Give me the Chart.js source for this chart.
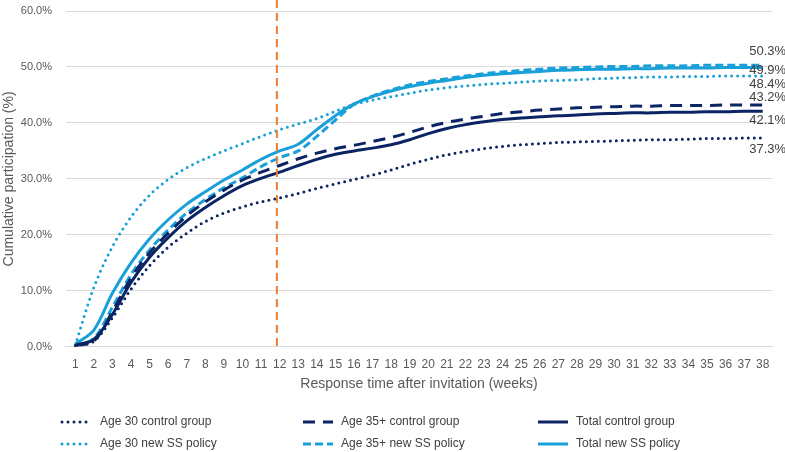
<!DOCTYPE html>
<html>
<head>
<meta charset="utf-8">
<script src="https://cdn.jsdelivr.net/npm/chart.js@4.4.1/dist/chart.umd.min.js"></script>
<style>
  html, body { margin: 0; padding: 0; background: #fff; }
  #wrap { width: 785px; height: 452px; }
</style>
</head>
<body>
<div id="wrap"><canvas id="participationChart"></canvas></div>
<script>
// Weeks after invitation
var weeks = ['1','2','3','4','5','6','7','8','9','10','11','12','13','14','15','16','17','18','19',
             '20','21','22','23','24','25','26','27','28','29','30','31','32','33','34','35','36','37','38'];

// Cumulative participation (%) per group
var age30Control = [0.2, 1.0, 5.2, 10.3, 14.5, 17.8, 20.3, 22.4, 23.9, 25.0, 25.9, 26.6, 27.4, 28.3, 29.1, 29.9, 30.7, 31.6, 32.6,
                    33.5, 34.3, 34.9, 35.4, 35.8, 36.1, 36.3, 36.5, 36.6, 36.7, 36.8, 36.9, 37.0, 37.0, 37.1, 37.2, 37.2, 37.3, 37.3];
var age35Control = [0.2, 1.0, 6.3, 12.3, 16.8, 20.3, 23.4, 25.9, 28.0, 29.8, 31.2, 32.4, 33.6, 34.6, 35.4, 36.0, 36.7, 37.4, 38.3,
                    39.3, 40.1, 40.7, 41.2, 41.7, 42.0, 42.3, 42.5, 42.7, 42.8, 42.9, 43.0, 43.0, 43.1, 43.1, 43.1, 43.2, 43.2, 43.2];
var totalControl = [0.3, 1.3, 5.8, 11.5, 16.0, 19.5, 22.5, 24.9, 27.0, 28.8, 30.1, 31.2, 32.4, 33.5, 34.4, 35.0, 35.5, 36.1, 37.0,
                    38.1, 39.0, 39.7, 40.2, 40.6, 40.9, 41.1, 41.3, 41.4, 41.6, 41.7, 41.8, 41.8, 41.9, 41.9, 42.0, 42.0, 42.1, 42.1];
var age30New     = [0.3, 10.6, 17.9, 23.2, 27.1, 29.9, 32.0, 33.6, 35.0, 36.3, 37.6, 38.8, 39.8, 40.8, 42.1, 43.3, 44.1, 44.7, 45.3,
                    45.9, 46.3, 46.6, 46.9, 47.1, 47.3, 47.5, 47.6, 47.7, 47.9, 48.0, 48.1, 48.2, 48.2, 48.3, 48.3, 48.4, 48.4, 48.4];
var age35New     = [0.2, 1.5, 7.1, 12.9, 17.3, 20.9, 23.9, 26.3, 28.4, 30.2, 32.2, 33.8, 35.0, 37.6, 40.5, 43.3, 44.8, 45.9, 46.8,
                    47.4, 47.9, 48.4, 48.8, 49.1, 49.4, 49.6, 49.8, 49.9, 50.0, 50.1, 50.1, 50.2, 50.2, 50.2, 50.3, 50.3, 50.3, 50.3];
var totalNew     = [0.5, 3.0, 9.6, 15.0, 19.3, 22.7, 25.5, 27.7, 29.8, 31.6, 33.5, 35.0, 36.2, 38.8, 41.3, 43.4, 44.7, 45.7, 46.5,
                    47.1, 47.6, 48.1, 48.5, 48.8, 49.0, 49.2, 49.4, 49.5, 49.6, 49.6, 49.7, 49.7, 49.8, 49.8, 49.8, 49.9, 49.9, 49.9];

// Week where the new policy marker is drawn
var policyWeek = 11.85;

var navy = '#0b2463';
var sky = '#1aa0d8';
var fontFamily = "'Liberation Sans', Arial, sans-serif";

function lineSet(label, data, color, dash, cap, labelShift) {
    return {
        label: label,
        data: data,
        borderColor: color,
        backgroundColor: color,
        borderWidth: 3,
        borderDash: dash,
        borderCapStyle: cap,
        pointRadius: 0,
        pointHoverRadius: 0,
        tension: 0.33,
        fill: false,
        labelShift: labelShift
    };
}

// Orange dashed marker line
var policyLine = {
    id: 'policyLine',
    afterDatasetsDraw: function(chart) {
        var x = chart.scales.x.getPixelForValue(policyWeek - 1);
        var ctx = chart.ctx;
        ctx.save();
        ctx.strokeStyle = '#ed7d31';
        ctx.lineWidth = 2;
        ctx.setLineDash([8, 5]);
        ctx.beginPath();
        ctx.moveTo(x, 0);
        ctx.lineTo(x, chart.chartArea.bottom);
        ctx.stroke();
        ctx.restore();
    }
};

// Value labels at the end of every line
var endLabels = {
    id: 'endLabels',
    afterDatasetsDraw: function(chart) {
        var ctx = chart.ctx;
        ctx.save();
        ctx.font = '13px ' + fontFamily;
        ctx.fillStyle = '#404040';
        ctx.textAlign = 'center';
        ctx.textBaseline = 'middle';
        chart.data.datasets.forEach(function(ds, i) {
            var pts = chart.getDatasetMeta(i).data;
            var last = pts[pts.length - 1];
            var v = ds.data[ds.data.length - 1];
            ctx.fillText(v.toFixed(1) + '%', last.x + 5, last.y + ds.labelShift);
        });
        ctx.restore();
    }
};

// Legend in three columns, two rows
var gridLegend = {
    id: 'gridLegend',
    afterDraw: function(chart) {
        var ctx = chart.ctx;
        var colX = [62, 303, 538];
        var rowY = [chart.height - 30, chart.height - 8];
        ctx.save();
        ctx.font = '12px ' + fontFamily;
        ctx.textBaseline = 'middle';
        ctx.fillStyle = '#404040';
        chart.data.datasets.forEach(function(ds, i) {
            var x = colX[i % 3];
            var y = rowY[Math.floor(i / 3)];
            ctx.strokeStyle = ds.borderColor;
            ctx.lineWidth = 3;
            ctx.lineCap = ds.borderCapStyle;
            ctx.setLineDash(ds.borderDash);
            ctx.beginPath();
            ctx.moveTo(x, y);
            ctx.lineTo(x + 30, y);
            ctx.stroke();
            ctx.setLineDash([]);
            ctx.fillText(ds.label, x + 38, y);
        });
        ctx.restore();
    }
};

var ctx = document.getElementById('participationChart').getContext('2d');
var chart = new Chart(ctx, {
    type: 'line',
    data: {
        labels: weeks,
        datasets: [
            lineSet('Age 30 control group', age30Control, navy, [0, 6], 'round', 11),
            lineSet('Age 35+ control group', age35Control, navy, [12, 8], 'butt', -8),
            lineSet('Total control group', totalControl, navy, [], 'butt', 9),
            lineSet('Age 30 new SS policy', age30New, sky, [0, 6], 'round', 9),
            lineSet('Age 35+ new SS policy', age35New, sky, [8, 4], 'butt', -14),
            lineSet('Total new SS policy', totalNew, sky, [], 'butt', 3)
        ]
    },
    options: {
        responsive: true,
        maintainAspectRatio: false,
        animation: false,
        layout: { padding: { top: 11, right: 13, bottom: 55, left: 0 } },
        scales: {
            x: {
                offset: true,
                grid: { display: false },
                border: { color: '#d9d9d9' },
                ticks: { color: '#595959', font: { family: fontFamily, size: 12 }, maxRotation: 0, autoSkip: false },
                title: { display: true, text: 'Response time after invitation (weeks)', color: '#595959',
                         font: { family: fontFamily, size: 14 }, padding: { top: 1, bottom: 4 } }
            },
            y: {
                min: 0,
                max: 60,
                ticks: { stepSize: 10, padding: 3, color: '#595959', font: { family: fontFamily, size: 11 },
                         callback: function(v) { return v.toFixed(1) + '%'; } },
                grid: { color: '#d9d9d9', lineWidth: 1, drawTicks: true, tickLength: 11, tickColor: 'rgba(0,0,0,0)' },
                border: { display: false },
                title: { display: true, text: 'Cumulative participation (%)', color: '#595959',
                         font: { family: fontFamily, size: 14 }, padding: { top: 1, bottom: 0 } }
            }
        },
        plugins: {
            legend: { display: false },
            tooltip: { enabled: false }
        }
    },
    plugins: [policyLine, endLabels, gridLegend]
});
</script>
</body>
</html>
